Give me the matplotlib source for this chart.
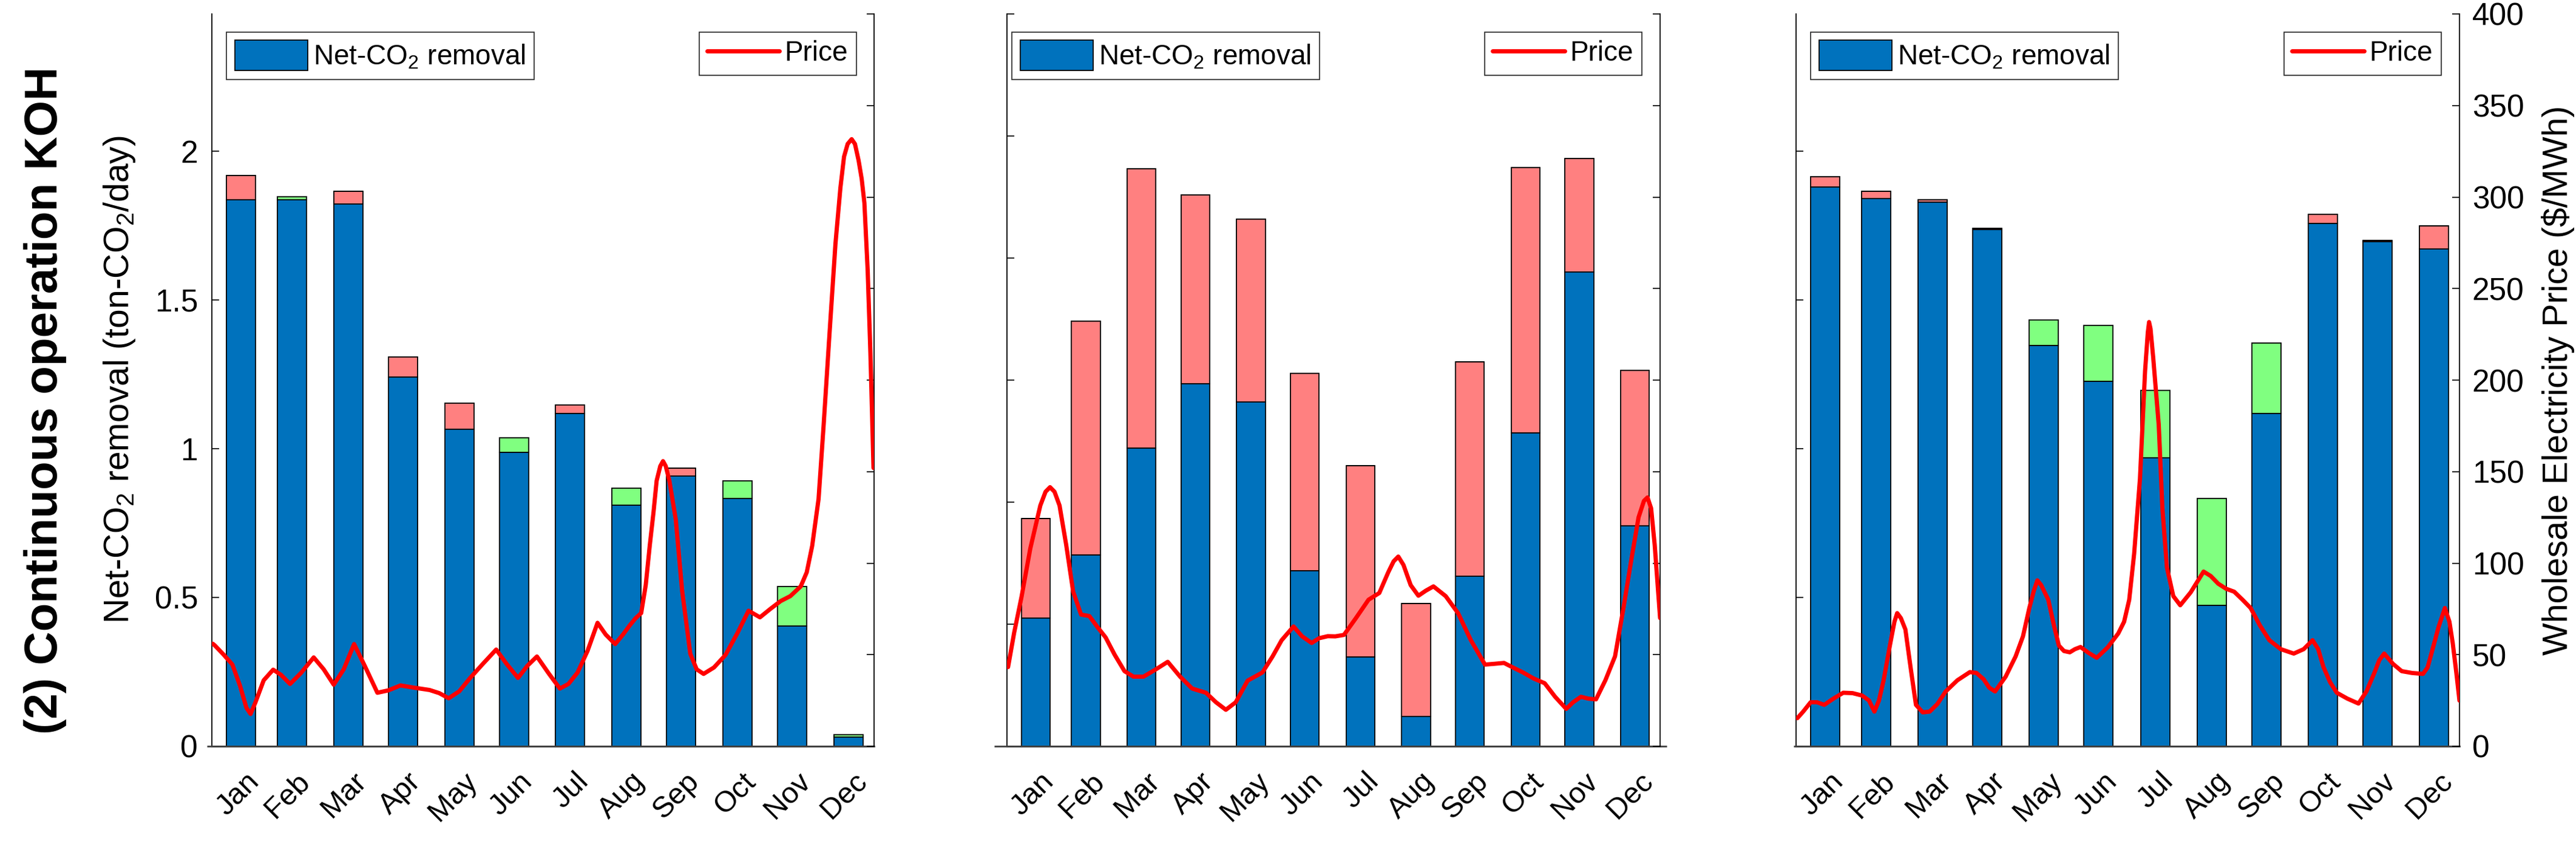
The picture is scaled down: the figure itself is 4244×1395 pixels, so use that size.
import numpy as np
import matplotlib
matplotlib.use('Agg')
import matplotlib.pyplot as plt
from matplotlib.transforms import ScaledTranslation

plt.rcParams['font.family'] = ['Liberation Sans', 'DejaVu Sans']
plt.rcParams['mathtext.fontset'] = 'custom'
plt.rcParams['mathtext.rm'] = 'Liberation Sans'
plt.rcParams['mathtext.it'] = 'Liberation Sans:italic'
plt.rcParams['mathtext.bf'] = 'Liberation Sans:bold'

# ---------------- data ----------------
months = ['Jan', 'Feb', 'Mar', 'Apr', 'May', 'Jun', 'Jul', 'Aug', 'Sep', 'Oct', 'Nov', 'Dec']
days_in_month = [31, 28, 31, 30, 31, 30, 31, 31, 30, 31, 30, 31]

# panel 1
p1_net = [1.835, 1.835, 1.821, 1.241, 1.065, 0.988, 1.118, 0.810, 0.908, 0.833, 0.403, 0.031]
p1_loss = [0.082, 0.0, 0.043, 0.066, 0.087, 0.0, 0.029, 0.0, 0.026, 0.0, 0.0, 0.0]
p1_gain = [0.0, 0.011, 0.0, 0.0, 0.0, 0.048, 0.0, 0.057, 0.0, 0.058, 0.133, 0.007]
p1_day = [0.5, 1.7, 6.5, 11.3, 15.5, 19.0, 21.3, 24.0, 28.5, 33.7, 38.0, 43.0, 49.0, 56.0, 61.5,
          67.0, 72.5, 78.2, 84.0, 91.0, 97.0, 103.7, 111.0, 119.7, 125.0, 130.2, 136.0, 142.0,
          149.0, 156.3, 162.0, 168.3, 173.5, 178.7, 185.0, 191.3, 196.0, 201.0, 206.5, 212.0,
          216.5, 221.7, 226.0, 229.7, 233.0, 236.0, 238.5, 240.7, 242.8, 244.5, 246.5, 248.0,
          249.5, 251.5, 255.0, 258.5, 263.0, 266.5, 270.3, 276.0, 282.3, 289.0, 295.0, 301.3,
          307.0, 312.7, 318.0, 323.7, 327.0, 330.0, 333.5, 336.3, 339.5, 342.8, 345.5, 347.5,
          349.5, 351.7, 353.5, 355.5, 357.2, 358.7, 360.5, 362.0, 363.7]
p1_price = [56, 55, 50, 44.6, 33, 21, 17.6, 24, 36, 41.8, 39, 34, 40, 48.5, 42,
            33.6, 42, 55.8, 44, 29.2, 30.5, 33.2, 32, 30.7, 29, 26.2, 30, 37.3,
            45, 52.8, 45, 37.3, 44, 49, 40, 31.5, 34, 40.2, 52, 67.4,
            61, 55.8, 61, 66, 70, 72.7, 88, 109.5, 128, 145, 153, 155.7,
            153, 145, 124, 85, 50.5, 42, 39.5, 43, 49.8, 62, 74, 70.4,
            75, 79.3, 82, 87.3, 95, 109.4, 135, 175.6, 225, 274.6, 305, 322,
            329, 331.6, 329, 320, 310, 296.8, 260, 215, 152]

# panel 2
p2_net = [0.525, 0.784, 1.221, 1.486, 1.410, 0.720, 0.365, 0.123, 0.696, 1.284, 1.943, 0.902]
p2_loss = [0.407, 0.958, 1.145, 0.773, 0.750, 0.808, 0.784, 0.461, 0.879, 1.086, 0.464, 0.638]
p2_gain = [0.0, 0.0, 0.0, 0.0, 0.0, 0.0, 0.0, 0.0, 0.0, 0.0, 0.0, 0.0]
p2_day = [0.6, 4.0, 8.1, 13.0, 18.6, 21.5, 24.0, 26.5, 29.3, 33.0, 36.9, 41.3, 45.9, 50.5,
          55.0, 60.0, 65.5, 70.5, 76.1, 83.0, 89.6, 96.5, 103.2, 110.9, 116.5, 122.0, 127.5,
          134.1, 142.4, 148.0, 153.1, 159.7, 164.5, 169.8, 174.0, 178.8, 183.0, 187.8, 194.5,
          201.5, 207.5, 212.5, 215.5, 218.1, 221.0, 225.0, 229.3, 233.5, 237.7, 244.5, 251.4,
          258.5, 266.4, 271.5, 277.0, 282.0, 287.6, 293.5, 299.7, 305.5, 311.7, 315.5, 319.9,
          324.0, 328.3, 333.5, 338.9, 343.5, 348.0, 352.0, 355.0, 357.0, 359.0, 361.0, 364.0]
p2_price = [43.2, 62, 81.5, 108, 131.5, 139, 141.5, 139, 131.5, 110, 84.4, 71.9, 71.1, 65,
            59.4, 50, 41, 38, 38, 42, 46.1, 38, 31.5, 29.2, 24, 19.9, 24,
            35.8, 40.3, 49, 57.9, 65.4, 60, 56.4, 59, 60.1, 60, 60.8, 70,
            80, 83.7, 95, 101, 103.6, 99, 88, 82.2, 85, 87.3, 82, 72.7,
            58, 44.6, 45, 45.5, 43, 40.3, 37, 34.4, 27, 20.4, 24, 27,
            26, 25.6, 36, 49.1, 75, 102, 125, 134, 135.9, 130, 110, 70]

# panel 3
p3_net = [1.878, 1.839, 1.827, 1.736, 1.346, 1.225, 0.969, 0.473, 1.118, 1.757, 1.696, 1.671]
p3_loss = [0.035, 0.026, 0.008, 0.003, 0.0, 0.0, 0.0, 0.0, 0.0, 0.030, 0.004, 0.077]
p3_gain = [0.0, 0.0, 0.0, 0.0, 0.086, 0.189, 0.226, 0.360, 0.237, 0.0, 0.0, 0.0]
p3_day = [0.7, 4.0, 8.0, 11.5, 15.5, 20.5, 25.9, 31.0, 36.2, 40.0, 43.0, 45.5, 48.0, 51.5, 54.0,
          55.5, 57.5, 60.0, 63.0, 65.8, 69.5, 73.3, 77.5, 82.1, 88.5, 95.4, 99.0, 102.9, 106.0,
          109.2, 115.0, 120.5, 124.5, 128.0, 130.5, 132.4, 134.5, 138.4, 141.5, 144.2, 147.0,
          150.2, 153.0, 156.1, 160.5, 165.0, 171.0, 176.8, 180.0, 182.8, 185.5, 188.7, 191.5,
          193.0, 193.7, 194.5, 196.0, 199.0, 201.0, 203.5, 207.0, 210.8, 216.5, 223.6, 227.5,
          231.6, 236.0, 240.4, 245.0, 249.4, 254.5, 259.7, 266.0, 273.1, 278.5, 283.4, 286.5,
          289.4, 293.0, 296.7, 302.5, 308.6, 313.0, 317.4, 320.0, 322.7, 327.5, 332.3, 338.0,
          344.0, 346.5, 348.6, 352.5, 356.0, 358.5, 360.3, 362.3, 364.0]
p3_price = [15.3, 19, 24, 24, 22.6, 26, 29.2, 29, 27.7, 25, 18.9, 25, 35.8, 55, 68,
            72.7, 70, 63.8, 42, 22.6, 18.5, 18.9, 23, 29.9, 36, 40.5, 40, 36.6, 32,
            29.9, 38, 49.1, 60, 75.5, 85, 90.6, 88, 80, 66, 55, 52,
            51.3, 53, 54.2, 51, 48.3, 54, 61.6, 68, 80, 105, 146, 205,
            226, 231.7, 228, 212, 175.6, 130, 97.6, 82, 77, 84, 95.4, 93,
            88.8, 86, 84.4, 80, 75.5, 66, 57.9, 53, 50.6, 53, 57.9, 53,
            43.2, 35, 29.2, 26, 23.3, 30, 40.3, 47, 50.6, 45, 41, 40,
            39.5, 43, 50.6, 65, 75.5, 68, 56.4, 40, 24.9]

# ---------------- styling ----------------
BLUE = '#0072BD'
PINK = '#FF8080'
GREEN = '#80FF80'
RED = '#FF0000'

W, H = 4244, 1395
DPI = 100
fig = plt.figure(figsize=(W / DPI, H / DPI), dpi=DPI)

AX_TOP, AX_BOT = 23, 1229
panels = [
    dict(left=349, right=1440, net=p1_net, loss=p1_loss, gain=p1_gain, day=p1_day, price=p1_price,
         ymax=2.46, yticks=np.arange(0, 2.01, 0.5), leftlab=True, rightlab=False,
         legL=373, legR=1411, extL=8, extR=0),
    dict(left=1659, right=2735, net=p2_net, loss=p2_loss, gain=p2_gain, day=p2_day, price=p2_price,
         ymax=3.0, yticks=np.arange(0, 3.01, 0.5), leftlab=False, rightlab=False,
         legL=1667, legR=2705, extL=21, extR=11),
    dict(left=2959, right=4052, net=p3_net, loss=p3_loss, gain=p3_gain, day=p3_day, price=p3_price,
         ymax=2.46, yticks=np.arange(0, 2.01, 0.5), leftlab=False, rightlab=True,
         legL=2983, legR=4022, extL=4, extR=0),
]

centers = np.cumsum(days_in_month) - 15
bar_w = 16

for P in panels:
    l, r = P['left'], P['right']
    ax = fig.add_axes([l / W, (H - AX_BOT) / H, (r - l) / W, (AX_BOT - AX_TOP) / H])
    net = np.array(P['net']); loss = np.array(P['loss']); gain = np.array(P['gain'])
    hb = ax.bar(centers, net, bar_w, color=BLUE, edgecolor='black', linewidth=1.3, zorder=2)
    ax.bar(centers, loss, bar_w, bottom=net, color=PINK, edgecolor='black', linewidth=1.3, zorder=2)
    ax.bar(centers, gain, bar_w, bottom=net + loss, color=GREEN, edgecolor='black', linewidth=1.3, zorder=2)
    ax.set_xlim(0, 364)
    ax.set_ylim(0, P['ymax'])
    ax.set_yticks(P['yticks'])
    ax.tick_params(axis='y', direction='in', length=8.6, width=1.2, labelsize=37, pad=16.5,
                   labelleft=P['leftlab'])
    ax.set_yticklabels(['0', '0.5', '1', '1.5', '2', '2.5', '3'][:len(P['yticks'])])
    ax.set_xticks(centers)
    ax.set_xticklabels(months, rotation=45, ha='right', va='center', rotation_mode='anchor',
                       fontsize=35)
    ax.tick_params(axis='x', length=0, pad=37)
    for lab in ax.get_xticklabels():
        lab.set_transform(lab.get_transform() + ScaledTranslation(23 / DPI, 0, fig.dpi_scale_trans))
    ax.spines['top'].set_visible(False)
    ax.spines['right'].set_visible(False)
    ax.spines['left'].set_linewidth(1.3)
    ax.spines['bottom'].set_linewidth(2.0)
    ax.spines['bottom'].set_color('#404040')
    wpx = r - l
    ax.plot([-P['extL'] / wpx, 1 + P['extR'] / wpx], [0, 0], transform=ax.transAxes,
            clip_on=False, color='#404040', lw=2.0, solid_capstyle='butt', zorder=5)

    hpx = AX_BOT - AX_TOP
    leg1 = ax.legend([hb], ['Net-CO$_2$ removal'], loc='upper left',
                     bbox_to_anchor=((P['legL'] - l) / wpx, (AX_BOT - 52.7) / hpx),
                     borderaxespad=0, fontsize=33, handlelength=2.62, handleheight=1.3,
                     handletextpad=0.2, borderpad=0.3, fancybox=False, framealpha=1)
    leg1.get_frame().set_linewidth(1.2)
    leg1.get_frame().set_edgecolor('#262626')

    ax2 = ax.twinx()
    hl, = ax2.plot(P['day'], P['price'], color=RED, lw=5, solid_joinstyle='round',
                   solid_capstyle='round', zorder=3)
    ax2.set_ylim(0, 400)
    ax2.set_xlim(0, 364)
    ax2.set_yticks(np.arange(0, 401, 50))
    ax2.tick_params(axis='y', direction='in', length=8.6, width=1.2, labelsize=37, pad=15,
                    labelright=P['rightlab'])
    for s in ['top', 'left', 'bottom']:
        ax2.spines[s].set_visible(False)
    ax2.spines['right'].set_linewidth(1.3)
    leg2 = ax2.legend([hl], ['Price'], loc='upper right',
                      bbox_to_anchor=((P['legR'] - l) / wpx, (AX_BOT - 52.7) / hpx),
                      borderaxespad=0, fontsize=33, handlelength=2.58,
                      handletextpad=0.2, borderpad=0.3, fancybox=False, framealpha=1)
    leg2.get_frame().set_linewidth(1.2)
    leg2.get_frame().set_edgecolor('#262626')

    if P['leftlab']:
        fig.text(197 / W, (H - 625.5) / H, 'Net-CO$_2$ removal (ton-CO$_2$/day)', rotation=90,
                 ha='center', va='center', fontsize=41)
    if P['rightlab']:
        fig.text(4214 / W, (H - 626.5) / H, 'Wholesale Electricity Price ($/MWh)', rotation=90,
                 ha='center', va='center', fontsize=41)

fig.text(75 / W, (H - 659) / H, '(2) Continuous operation KOH', rotation=90,
         ha='center', va='center', fontsize=55, fontweight='bold')

fig.savefig('out.png', dpi=DPI)
